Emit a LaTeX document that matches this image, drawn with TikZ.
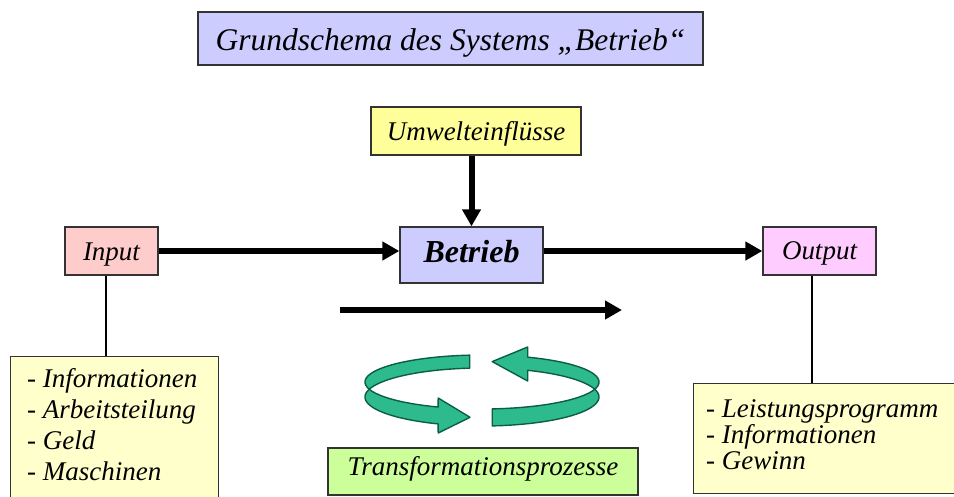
\documentclass[tikz,border=0pt]{standalone}
\usepackage{fontspec}
\setmainfont{Liberation Serif}
\usetikzlibrary{arrows.meta}
\definecolor{lav}{HTML}{CCCCFF}
\definecolor{umwfill}{HTML}{FFFF99}
\definecolor{infill}{HTML}{FFCCCC}
\definecolor{outfill}{HTML}{FFCCFF}
\definecolor{listfill}{HTML}{FFFFCC}
\definecolor{transfill}{HTML}{CCFF99}
\definecolor{boxline}{HTML}{333333}
\definecolor{ribbonfill}{HTML}{2DBB8E}
\definecolor{ribbonedge}{HTML}{0B5E45}
\begin{document}
\begin{tikzpicture}[x=1pt,y=-1pt,
  box/.style={draw=boxline, line width=1.3pt, inner sep=0pt,
    font=\fontsize{27}{31}\selectfont\itshape},
  tb/.style={text height=#1, text depth=0pt},
  flow/.style={line width=6pt, -{Triangle[length=17pt,width=18pt]}},
  tie/.style={line width=1.2pt},
  listline/.style={anchor=base west, inner sep=0pt,
    font=\fontsize{27}{31}\selectfont\itshape},
  ribbon/.style={fill=ribbonfill, draw=ribbonedge, line width=1.4pt, line join=round}]
\useasboundingbox (0,0) rectangle (954,496);
\clip (0,0) rectangle (954,496);
\fill[white] (0,0) rectangle (954,496);

% title
\node[box, fill=lav, line width=2pt, minimum width=505pt, minimum height=53pt,
  tb=23pt, font=\fontsize{31.5}{36}\selectfont\itshape]
  (title) at (450.5,38.5) {Grundschema des Systems „Betrieb“};

% main boxes
\node[box, fill=umwfill, minimum width=210pt, minimum height=48pt, tb=18pt]
  (umw) at (476,131) {Umwelteinflüsse};
\node[box, fill=lav, minimum width=143pt, minimum height=56pt, tb=14pt,
  font=\fontsize{32}{36}\selectfont\bfseries\itshape]
  (bet) at (471.5,255) {Betrieb};
\node[box, fill=infill, minimum width=93pt, minimum height=48pt, tb=18pt]
  (inp) at (111.5,251) {Input};
\node[box, fill=outfill, minimum width=113pt, minimum height=48pt, tb=16pt]
  (out) at (819.5,251) {Output};
\node[box, fill=transfill, minimum width=310pt, minimum height=47pt, tb=7pt]
  (trans) at (483,471.5) {Transformationsprozesse};

% list boxes
\node[box, fill=listfill, anchor=north west, minimum width=208pt, minimum height=150pt]
  (inlist) at (10,356) {};
\node[box, fill=listfill, anchor=north west, minimum width=270pt, minimum height=110pt]
  (outlist) at (693,383) {};

\node[listline] (il1) at (27,387) {- Informationen};
\node[listline] (il2) at (27,418) {- Arbeitsteilung};
\node[listline] (il3) at (27,449) {- Geld};
\node[listline] (il4) at (27,480) {- Maschinen};

\node[listline] (ol1) at (706,417) {- Leistungsprogramm};
\node[listline] (ol2) at (706,443) {- Informationen};
\node[listline] (ol3) at (706,469) {- Gewinn};

% thin ties to the lists
\draw[tie] ([xshift=-5.5pt]inp.south) -- ([xshift=-5.5pt]inp.south |- inlist.north);
\draw[tie] ([xshift=-7.5pt]out.south) -- ([xshift=-7.5pt]out.south |- outlist.north);

% flow arrows
\draw[flow] (umw.south -| bet.north) -- (bet.north);
\draw[flow] (inp.east) -- (bet.west |- inp.east);
\draw[flow] (out.west -| bet.east) -- (out.west);
\coordinate (m1) at (340,310);
\coordinate (m2) at (622,310);
\draw[flow] (m1) -- (m2);

% circular ribbon arrows (band between two ellipses, arrowhead at the end)
\filldraw[ribbon]
  plot[domain=-96:-248, samples=60] ({482+117*cos(\x)},{382+27*sin(\x)})
  -- (438.2,398) -- (470,417.3) -- (438.2,433)
  -- plot[domain=-248:-96, samples=60] ({482+117*cos(\x)},{397+29*sin(\x)})
  -- cycle;
\filldraw[ribbon]
  plot[domain=85:-67, samples=60] ({482+117*cos(\x)},{382+27*sin(\x)})
  -- (527.7,347) -- (492.2,361.6) -- (527.7,381)
  -- plot[domain=-67:85, samples=60] ({482+117*cos(\x)},{397+29*sin(\x)})
  -- cycle;
\end{tikzpicture}
\end{document}
